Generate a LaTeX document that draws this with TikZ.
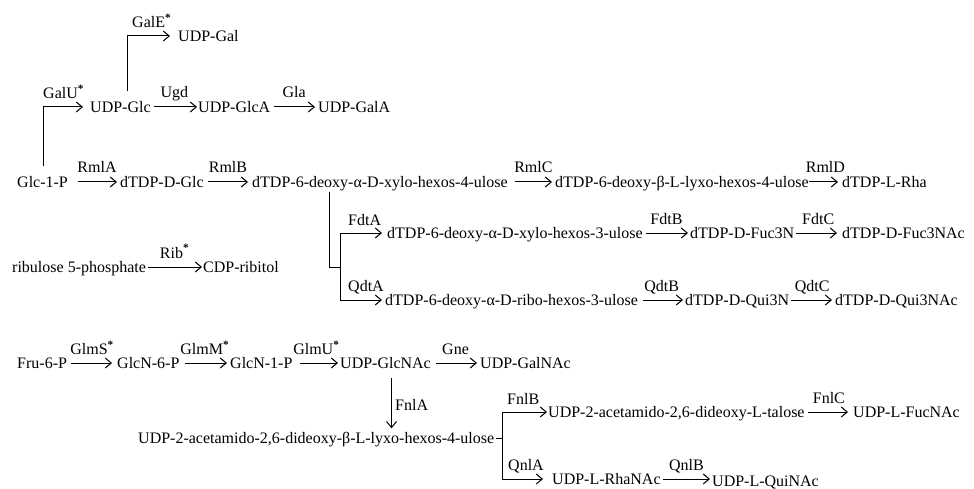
\documentclass[tikz,border=0pt]{standalone}
\usepackage{fontspec}
\setmainfont{Liberation Serif}
\usetikzlibrary{arrows.meta,calc}
\newcommand{\st}{\textsuperscript{\bfseries *}}
\begin{document}
\begin{tikzpicture}[x=1pt,y=-1pt,
  every node/.style={font=\fontsize{16}{19}\selectfont},
  txt/.style={anchor=west,inner sep=0pt,text height=11pt,text depth=0pt},
  lab/.style={inner sep=0pt,text height=11pt,text depth=0pt},
  ln/.style={line width=1pt},
  arr/.style={line width=1pt,-{Straight Barb[length=6pt,width=10pt,line width=1pt]}}]
\useasboundingbox (0,0) rectangle (974,489);
% rows
\node[txt] (udpgal)  at (178,36)  {UDP-Gal};
\node[txt] (udpglc)  at (90,107)  {UDP-Glc};
\node[txt] (udpglca) at (198,107) {UDP-GlcA};
\node[txt] (udpgala) at (318,107) {UDP-GalA};
\node[txt] (glcp)    at (17,182)  {Glc-1-P};
\node[txt] (dglc)    at (120,182) {dTDP-D-Glc};
\node[txt] (dfu)     at (252,182) {dTDP-6-deoxy-α-D-xylo-hexos-4-ulose};
\node[txt] (dbu)     at (555,182) {dTDP-6-deoxy-β-L-lyxo-hexos-4-ulose};
\node[txt] (drha)    at (842,182) {dTDP-L-Rha};
\node[txt] (dx3)     at (387,233) {dTDP-6-deoxy-α-D-xylo-hexos-3-ulose};
\node[txt] (fuc3n)   at (690,233) {dTDP-D-Fuc3N};
\node[txt] (fuc3nac) at (842,233) {dTDP-D-Fuc3NAc};
\node[txt] (rib5p)   at (12,267)  {ribulose 5-phosphate};
\node[txt] (cdprib)  at (203,267) {CDP-ribitol};
\node[txt] (dr3)     at (385,300) {dTDP-6-deoxy-α-D-ribo-hexos-3-ulose};
\node[txt] (qui3n)   at (685,300) {dTDP-D-Qui3N};
\node[txt] (qui3nac) at (835,300) {dTDP-D-Qui3NAc};
\node[txt] (fru6p)   at (17,363)  {Fru-6-P};
\node[txt] (glcn6p)  at (117,363) {GlcN-6-P};
\node[txt] (glcn1p)  at (230,363) {GlcN-1-P};
\node[txt] (glcnac)  at (340,363) {UDP-GlcNAc};
\node[txt] (galnac)  at (480,363) {UDP-GalNAc};
\node[txt] (acet)    at (138,438) {UDP-2-acetamido-2,6-dideoxy-β-L-lyxo-hexos-4-ulose};
\node[txt] (talose)  at (548,412) {UDP-2-acetamido-2,6-dideoxy-L-talose};
\node[txt] (fucnac)  at (853,412) {UDP-L-FucNAc};
\node[txt] (rhanac)  at (552,479) {UDP-L-RhaNAc};
\node[txt] (quinac)  at (712,481) {UDP-L-QuiNAc};
% elbow connectors
\draw[arr,shorten <=10pt,shorten >=8pt] ([xshift=7pt]udpglc.north) |- (udpgal.west);
\node[lab,anchor=west] (galE) at (132,22) {GalE\st};
\draw[arr,shorten <=10pt,shorten >=7pt] ([xshift=1pt]glcp.north) |- (udpglc.west);
\node[lab,anchor=west] (galU) at (43,93) {GalU\st};
\coordinate (br) at (340,267);
\draw[ln,shorten <=4pt] ([xshift=-50.5pt]dfu.south) |- (br);
\draw[arr,shorten >=5pt] (br) |- (dx3.west);
\draw[arr,shorten >=3pt] (br) |- (dr3.west);
\node[lab,anchor=west] (fdtA) at (348,220) {FdtA};
\node[lab,anchor=west] (qdtA) at (348,286) {QdtA};
\coordinate (fb) at (502,438);
\draw[ln,shorten <=2pt] (acet.east) -- (fb);
\draw[arr,shorten >=1pt] (fb) |- (talose.west);
\draw[arr,shorten >=9pt] (fb) |- (rhanac.west);
\node[lab,anchor=west] (fnlB) at (507,399) {FnlB};
\node[lab,anchor=west] (qnlA) at (508,465) {QnlA};
\draw[arr,shorten <=9.5pt,shorten >=4pt] ([xshift=6pt]glcnac.south) -- ([xshift=6pt]glcnac.south |- acet.north);
\node[lab,anchor=west] (fnlA) at (395,405) {FnlA};
% straight reactions
\draw[arr,shorten <=3pt,shorten >=1pt] (udpglc.east) -- node[lab,above=8.5pt]{Ugd} (udpglca.west);
\draw[arr,shorten <=4pt,shorten >=3pt] (udpglca.east) -- node[lab,above=8.5pt]{Gla} (udpgala.west);
\draw[arr,shorten <=10pt,shorten >=3pt] (glcp.east) -- node[lab,above=8.5pt,xshift=3pt]{RmlA} (dglc.west);
\draw[arr,shorten <=4pt,shorten >=4pt] (dglc.east) -- node[lab,above=8.5pt]{RmlB} (dfu.west);
\draw[arr,shorten <=7pt,shorten >=3pt] (dfu.east) -- node[lab,above=8.5pt,xshift=2pt]{RmlC} (dbu.west);
\draw[arr,shorten <=0pt,shorten >=4pt] (dbu.east) -- node[lab,above=8.5pt]{RmlD} (drha.west);
\draw[arr,shorten <=3pt,shorten >=2pt] (dx3.east) -- node[lab,above=8.5pt]{FdtB} (fuc3n.west);
\draw[arr,shorten <=2pt,shorten >=5pt] (fuc3n.east) -- node[lab,above=8.5pt]{FdtC} (fuc3nac.west);
\draw[arr,shorten <=2pt,shorten >=1pt] (rib5p.east) -- node[lab,above=8.5pt]{Rib\st} (cdprib.west);
\draw[arr,shorten <=5pt,shorten >=2pt] (dr3.east) -- node[lab,above=8.5pt]{QdtB} (qui3n.west);
\draw[arr,shorten <=2pt,shorten >=3pt] (qui3n.east) -- node[lab,above=8.5pt]{QdtC} (qui3nac.west);
\draw[arr,shorten <=4pt,shorten >=5pt] (fru6p.east) -- node[lab,above=8pt]{GlmS\st} (glcn6p.west);
\draw[arr,shorten <=5pt,shorten >=3pt] (glcn6p.east) -- node[lab,above=8pt]{GlmM\st} (glcn1p.west);
\draw[arr,shorten <=7pt,shorten >=2pt] (glcn1p.east) -- node[lab,above=8pt]{GlmU\st} (glcnac.west);
\draw[arr,shorten <=5pt,shorten >=3pt] (glcnac.east) -- node[lab,above=8pt]{Gne} (galnac.west);
\draw[arr,shorten <=3pt,shorten >=5pt] (talose.east) -- node[lab,above=8.5pt]{FnlC} (fucnac.west);
\draw[arr,shorten <=2pt,shorten >=2pt] (rhanac.east) -- node[lab,above=8.5pt]{QnlB} (rhanac.east -| quinac.west);
\end{tikzpicture}
\end{document}
